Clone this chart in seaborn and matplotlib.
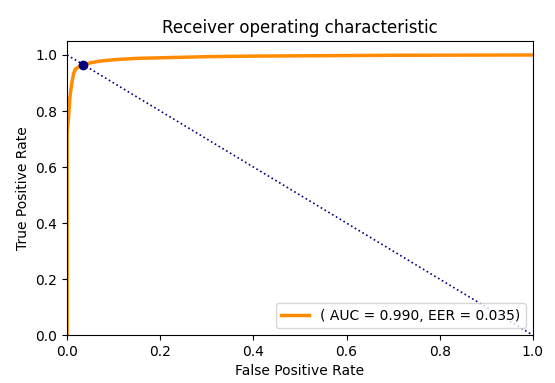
import matplotlib
matplotlib.use("Agg")
import matplotlib.pyplot as plt
import seaborn as sns

# ROC points
fpr = [0.0, 0.0, 0.0, 0.003, 0.006, 0.01, 0.014, 0.018, 0.025, 0.035, 0.05, 0.07,
       0.1, 0.15, 0.2, 0.3, 0.4, 0.5, 0.7, 1.0]
tpr = [0.0, 0.5, 0.72, 0.78, 0.85, 0.9, 0.935, 0.95, 0.958, 0.965, 0.972, 0.978,
       0.983, 0.988, 0.99, 0.994, 0.996, 0.997, 0.999, 1.0]
eer = 0.035
auc = 0.990

fig, ax = plt.subplots(figsize=(5.55, 3.83), dpi=100)
sns.lineplot(x=fpr, y=tpr, sort=False, estimator=None, color="darkorange", lw=2.5,
             label="( AUC = %0.3f, EER = %0.3f)" % (auc, eer), ax=ax)
ax.plot([0, 1], [1, 0], color="navy", lw=1.2, linestyle=":")
ax.plot([eer], [1 - eer], "o", color="navy", markersize=6)
ax.set_xlim(0.0, 1.0)
ax.set_ylim(0.0, 1.05)
ax.set_xlabel("False Positive Rate")
ax.set_ylabel("True Positive Rate")
ax.set_title("Receiver operating characteristic")
ax.legend(loc="lower right")
plt.subplots_adjust(left=0.121, right=0.96, top=0.893, bottom=0.125)
plt.savefig("out.png")
